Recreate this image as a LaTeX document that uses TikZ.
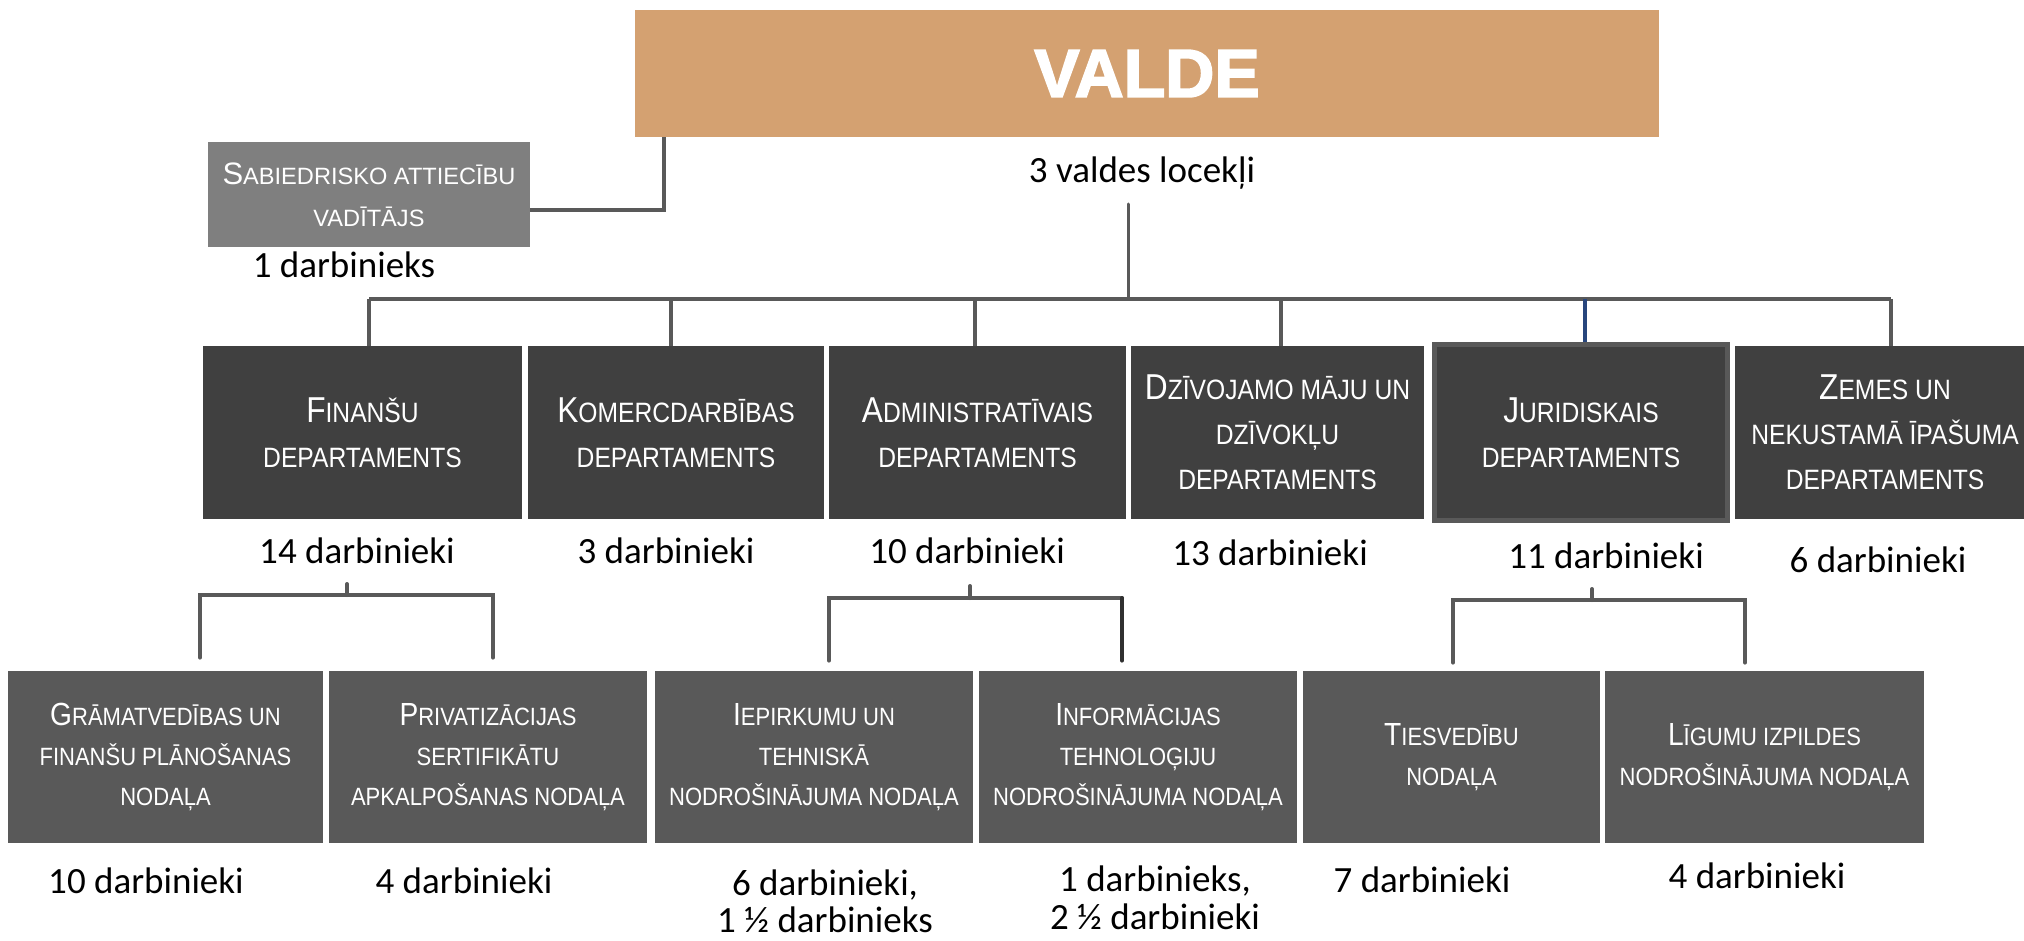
\documentclass[tikz,border=0pt]{standalone}
\usepackage{fontspec}
\newfontfamily\narrowf{Liberation Sans}[FakeStretch=0.88]
\newfontfamily\sabf{Liberation Sans}
\newfontfamily\labelf{Carlito}
\newfontfamily\headf{Liberation Sans}[FakeBold=2.5]
\definecolor{valdec}{HTML}{D4A171}
\definecolor{deptc}{HTML}{404040}
\definecolor{subc}{HTML}{595959}
\definecolor{sabc}{HTML}{7F7F7F}
\definecolor{linec}{HTML}{595959}
\definecolor{darkline}{HTML}{303030}
\definecolor{bluec}{RGB}{40,70,125}
\newcommand\bgD[1]{{\fontsize{18pt}{22.5pt}\selectfont #1}}
\newcommand\bgS[1]{{\fontsize{16pt}{20pt}\selectfont #1}}
\newcommand\bgA[1]{{\fontsize{15.5pt}{21pt}\selectfont #1}}
\begin{document}
\begin{tikzpicture}[x=0.5pt,y=-0.5pt,
  box/.style={rectangle, inner sep=0pt, align=center, text=white},
  deptbox/.style={box, fill=deptc, minimum height=86.5pt,
    font=\narrowf\fontsize{14pt}{22.5pt}\selectfont},
  subbox/.style={box, fill=subc, minimum height=86pt,
    font=\narrowf\fontsize{12.5pt}{20pt}\selectfont},
  lbl/.style={inner sep=0pt, anchor=base, font=\labelf\fontsize{18.5pt}{22pt}\selectfont},
  conn/.style={draw=linec, line width=2pt, line cap=round},
  dropline/.style={draw=linec, line width=1.75pt},
]
\useasboundingbox (0,0) rectangle (2024,941);

% top
\node[box, fill=valdec, minimum width=512pt, minimum height=63.5pt,
  font=\headf\bfseries\fontsize{34pt}{40pt}\selectfont] (valde) at (1147,73.5) {VALDE};
\node[lbl] (vl) at (1142,183) {3 valdes locekļi};

\node[box, fill=sabc, minimum width=161pt, minimum height=52.5pt,
  font=\sabf\fontsize{11.8pt}{21pt}\selectfont] (sab) at (369,194.5)
  {\bgA{S}ABIEDRISKO ATTIECĪBU\\VADĪTĀJS};
\node[lbl] (lsab) at (344,278) {1 darbinieks};

% departments
\node[deptbox, minimum width=159.5pt] (fin) at (362.5,432.5) {\bgD{F}INANŠU\\DEPARTAMENTS};
\node[deptbox, minimum width=148pt] (kom) at (676,432.5) {\bgD{K}OMERCDARBĪBAS\\DEPARTAMENTS};
\node[deptbox, minimum width=148.5pt] (adm) at (977.5,432.5) {\bgD{A}DMINISTRATĪVAIS\\DEPARTAMENTS};
\node[deptbox, minimum width=146.5pt] (dziv) at (1277.5,432.5) {\bgD{D}ZĪVOJAMO MĀJU UN\\DZĪVOKĻU\\DEPARTAMENTS};
\node[deptbox, draw=linec, line width=2.5pt, minimum width=146.5pt, minimum height=88pt] (jur) at (1581,432.5) {\bgD{J}URIDISKAIS\\DEPARTAMENTS};
\node[deptbox, minimum width=150pt] (zem) at (1885,432.5) {\bgD{Z}EMES UN\\NEKUSTAMĀ ĪPAŠUMA\\DEPARTAMENTS};

\node[lbl] (lfin) at (357,563) {14 darbinieki};
\node[lbl] (lkom) at (666,563) {3 darbinieki};
\node[lbl] (ladm) at (967,563) {10 darbinieki};
\node[lbl] (ldziv) at (1270,565) {13 darbinieki};
\node[lbl] (ljur) at (1606,568) {11 darbinieki};
\node[lbl] (lzem) at (1878,572) {6 darbinieki};

% sub units
\node[subbox, minimum width=157.5pt] (gram) at (165.5,757) {\bgS{G}RĀMATVEDĪBAS UN\\FINANŠU PLĀNOŠANAS\\NODAĻA};
\node[subbox, minimum width=159pt] (priv) at (488,757) {\bgS{P}RIVATIZĀCIJAS\\SERTIFIKĀTU\\APKALPOŠANAS NODAĻA};
\node[subbox, minimum width=159pt] (iep) at (814,757) {\bgS{I}EPIRKUMU UN\\TEHNISKĀ\\NODROŠINĀJUMA NODAĻA};
\node[subbox, minimum width=159pt] (inf) at (1138,757) {\bgS{I}NFORMĀCIJAS\\TEHNOLOĢIJU\\NODROŠINĀJUMA NODAĻA};
\node[subbox, minimum width=148.5pt] (ties) at (1451.5,757) {\bgS{T}IESVEDĪBU\\NODAĻA};
\node[subbox, minimum width=159.5pt] (lig) at (1764.5,757) {\bgS{L}ĪGUMU IZPILDES\\NODROŠINĀJUMA NODAĻA};

\node[lbl] (lgram) at (146,893) {10 darbinieki};
\node[lbl] (lpriv) at (464,893) {4 darbinieki};
\node[lbl] (liep) at (825,895) {6 darbinieki,};
\node[lbl] (liepb) at (825,932) {1 ½ darbinieks};
\node[lbl] (linf) at (1155,891) {1 darbinieks,};
\node[lbl] (linfb) at (1155,929) {2 ½ darbinieki};
\node[lbl] (lties) at (1422,892) {7 darbinieki};
\node[lbl] (llig) at (1757,888) {4 darbinieki};

% connectors: board
\coordinate (sabj) at (664,210);
\draw[conn, line cap=butt] (valde.south -| sabj) -- (sabj) -- (sabj -| sab.east);
\coordinate (trtop) at (1128,204);
\coordinate (trbot) at (1128,299);
\draw[conn, line width=1.5pt] (trtop) -- (trbot);
\coordinate (busL) at (369,299);
\coordinate (busR) at (1891,299);
\draw[conn, line cap=butt] (busL) -- (busR);
\foreach \n/\x in {fin/369, kom/671, adm/975, dziv/1281, zem/1891}{
  \coordinate (d\n) at (\x,299);
  \draw[dropline] (d\n) -- (d\n |- \n.north);
}
\coordinate (djur) at (1585,299);
\draw[dropline, draw=bluec] (djur) -- (djur |- jur.north);

% finance bracket
\coordinate (fstub) at (347,584);
\coordinate (fmid) at (347,595);
\coordinate (fL) at (200,595);
\coordinate (fR) at (493,595);
\draw[conn] (fstub) -- (fmid);
\draw[conn, shorten <=6.5pt, shorten >=6.5pt] (fL |- gram.north) -- (fL) -- (fR) -- (fR |- priv.north);

% admin bracket
\coordinate (astub) at (970,586);
\coordinate (amid) at (970,598);
\coordinate (aL) at (829,598);
\coordinate (aR) at (1122,598);
\draw[conn] (astub) -- (amid);
\draw[conn, shorten <=5pt] (aL |- iep.north) -- (aL) -- (aR);
\draw[conn, draw=darkline, shorten >=5pt] (aR) -- (aR |- inf.north);

% legal bracket
\coordinate (jstub) at (1592,589);
\coordinate (jmid) at (1592,600);
\coordinate (jL) at (1453,600);
\coordinate (jR) at (1745,600);
\draw[conn] (jstub) -- (jmid);
\draw[conn, shorten <=4pt, shorten >=4pt] (jL |- ties.north) -- (jL) -- (jR) -- (jR |- lig.north);
\end{tikzpicture}
\end{document}
